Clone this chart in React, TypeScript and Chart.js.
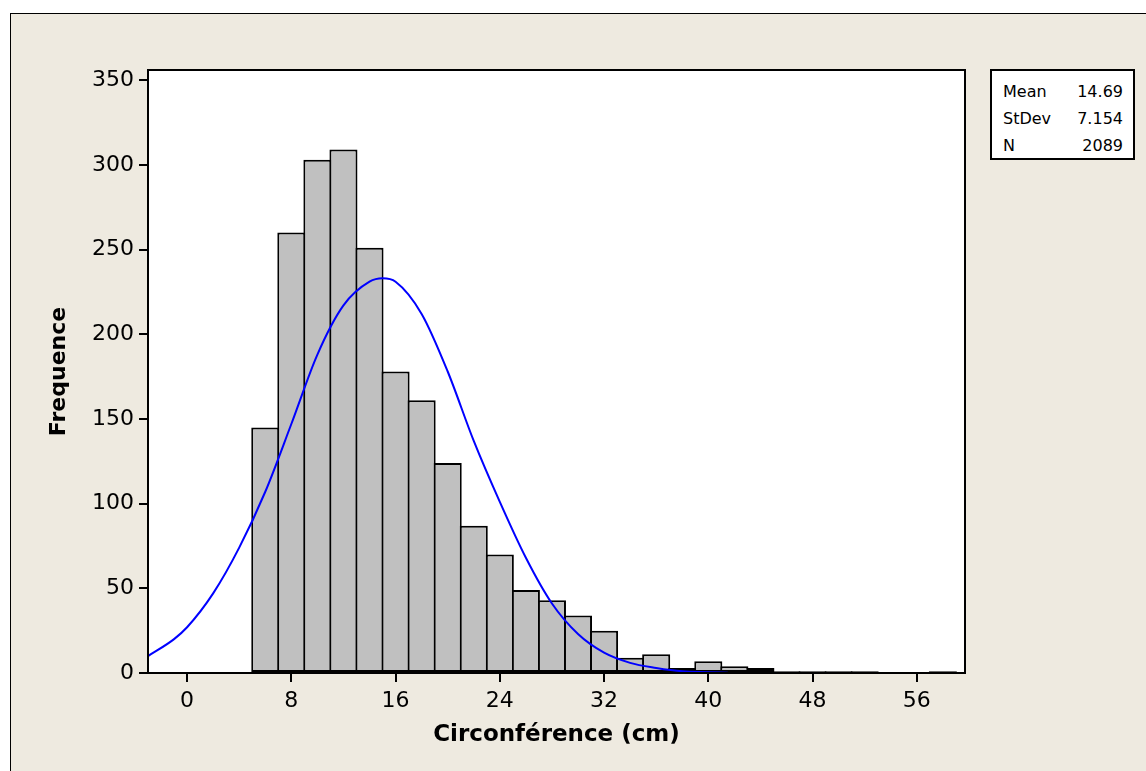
import React, { useEffect, useRef } from "react";
import { Chart, registerables } from "chart.js";

Chart.register(...registerables);

// Histogram bins (midpoints, width 2) and counts
const binMid = [6, 8, 10, 12, 14, 16, 18, 20, 22, 24, 26, 28, 30, 32, 34, 36, 38, 40, 42, 44, 46, 48, 50, 52, 54, 56, 58];
const binCount = [145, 260, 303, 309, 251, 178, 161, 124, 87, 70, 49, 43, 34, 25, 9, 11, 3, 7, 4, 3, 1, 1, 1, 1, 0, 0, 1];

// Fitted normal curve
const curveX = [-3, -1, 0, 2, 4, 6, 8, 10, 12, 14, 15, 16, 18, 20, 22, 24, 26, 28, 30, 32, 34, 36, 38, 40, 41.5];
const curveY = [10, 20, 27, 47, 74, 107, 147, 188, 217, 231, 233, 231, 212, 178, 137, 101, 68, 41, 23, 12, 6, 3, 1, 0.5, 0.2];

const xTicks = [0, 8, 16, 24, 32, 40, 48, 56];
const yTicks = [0, 50, 100, 150, 200, 250, 300, 350];

const xTitle = "Circonférence (cm)";
const yTitle = "Frequence";

const statLabels = ["Mean", "StDev", "N"];
const statValues = ["14.69", "7.154", "2089"];

const FONT = "'DejaVu Sans', sans-serif";

const framePlugin = {
  id: "plotFrame",
  beforeDraw(chart: any) {
    const { ctx, chartArea } = chart;
    const { left, top, right, bottom } = chartArea;
    ctx.save();
    ctx.fillStyle = "#ffffff";
    ctx.fillRect(left, top, right - left, bottom - top);
    ctx.restore();
  },
  afterDraw(chart: any) {
    const { ctx, chartArea } = chart;
    const { left, top, right, bottom } = chartArea;
    ctx.save();
    ctx.strokeStyle = "#000000";
    ctx.lineWidth = 2;
    ctx.strokeRect(left, top, right - left, bottom - top);
    ctx.restore();
  },
};

export default function App() {
  const canvasRef = useRef<HTMLCanvasElement | null>(null);

  useEffect(() => {
    const canvas = canvasRef.current;
    if (!canvas) return;
    const chart = new Chart(canvas, {
      type: "bar",
      data: {
        datasets: [
          {
            type: "line",
            order: 0,
            data: curveX.map((x, i) => ({ x, y: curveY[i] })),
            borderColor: "#0000ff",
            borderWidth: 2,
            pointRadius: 0,
            fill: false,
            cubicInterpolationMode: "monotone",
          } as any,
          {
            type: "bar",
            order: 1,
            data: binMid.map((x, i) => ({ x, y: binCount[i] })),
            backgroundColor: "#c0c0c0",
            borderColor: "#000000",
            borderWidth: 2,
            borderSkipped: false,
            barPercentage: 1.077,
            categoryPercentage: 1,
          } as any,
        ],
      },
      options: {
        responsive: false,
        animation: false,
        devicePixelRatio: 1,
        layout: { padding: { left: 0, top: 70, right: 181, bottom: 0 } },
        plugins: {
          legend: { display: false },
          tooltip: { enabled: false },
        },
        scales: {
          x: {
            type: "linear",
            min: -3,
            max: 59.7,
            offset: false,
            afterFit(scale: any) {
              scale.height = 98;
            },
            afterBuildTicks(scale: any) {
              scale.ticks = xTicks.map((v) => ({ value: v }));
            },
            grid: {
              display: true,
              offset: false,
              drawOnChartArea: false,
              drawTicks: true,
              tickLength: 9,
              color: "#000000",
              lineWidth: 2,
            },
            border: { display: false },
            ticks: {
              color: "#000000",
              padding: 6,
              maxRotation: 0,
              autoSkip: false,
              font: { family: FONT, size: 22 },
            },
            title: {
              display: true,
              text: xTitle,
              color: "#000000",
              padding: { top: 0, bottom: 22 },
              font: { family: FONT, size: 23, weight: "bold" },
            },
          },
          y: {
            type: "linear",
            min: 0,
            max: 356,
            afterFit(scale: any) {
              scale.width = 148;
            },
            afterBuildTicks(scale: any) {
              scale.ticks = yTicks.map((v) => ({ value: v }));
            },
            grid: {
              display: true,
              drawOnChartArea: false,
              drawTicks: true,
              tickLength: 9,
              color: "#000000",
              lineWidth: 2,
            },
            border: { display: false },
            ticks: {
              color: "#000000",
              padding: 5,
              autoSkip: false,
              font: { family: FONT, size: 22 },
            },
            title: {
              display: true,
              text: yTitle,
              color: "#000000",
              padding: { top: 46, bottom: 0 },
              font: { family: FONT, size: 22, weight: "bold" },
            },
          },
        },
      } as any,
      plugins: [framePlugin],
    });
    return () => chart.destroy();
  }, []);

  return (
    <div
      style={{
        position: "absolute",
        left: 0,
        top: 0,
        width: 1146,
        height: 771,
        overflow: "hidden",
        background: "#ffffff",
      }}
    >
      <div
        style={{
          position: "absolute",
          left: 10,
          top: 13,
          width: 1300,
          height: 900,
          background: "#eeeae0",
          border: "1px solid #000000",
        }}
      />
      <canvas
        ref={canvasRef}
        width={1146}
        height={771}
        style={{ position: "absolute", left: 0, top: 0, width: 1146, height: 771 }}
      />
      <div
        style={{
          position: "absolute",
          left: 990,
          top: 69,
          width: 141,
          height: 87,
          background: "#ffffff",
          border: "2px solid #000000",
          fontFamily: FONT,
          fontSize: 16,
          color: "#000000",
        }}
      >
        {statLabels.map((lab, i) => (
          <div
            key={lab}
            style={{
              position: "absolute",
              left: 11,
              right: 10,
              top: 6.5 + i * 27,
              height: 27,
              lineHeight: "27px",
              display: "flex",
              justifyContent: "space-between",
              whiteSpace: "nowrap",
            }}
          >
            <span>{lab}</span>
            <span>{statValues[i]}</span>
          </div>
        ))}
      </div>
    </div>
  );
}
